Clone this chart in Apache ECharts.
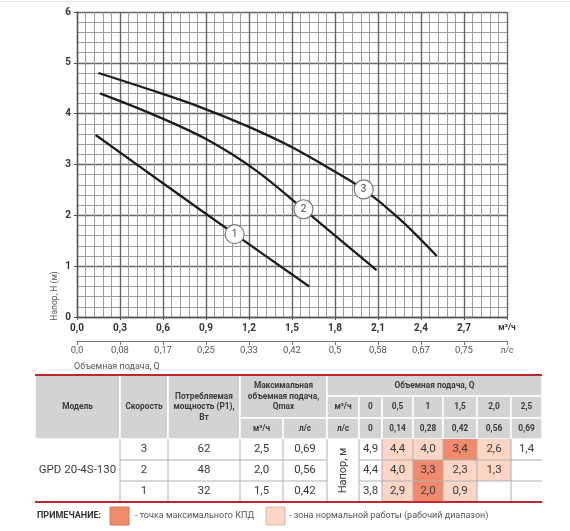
<!DOCTYPE html>
<html><head><meta charset="utf-8">
<script src="https://cdn.jsdelivr.net/npm/echarts@6/dist/echarts.min.js"></script>
<style>html,body{margin:0;padding:0;background:#fff}#c{width:570px;height:531px}</style>
</head><body><div id="c"></div>
<script>
// ---- chart data ----
const curve1 = [[0.13,3.58],[0.60,2.63],[1.10,1.63],[1.62,0.60]];
const curve2 = [[0.16,4.40],[0.50,4.02],[0.90,3.50],[1.25,2.88],[1.58,2.12],[2.09,0.92]];
const curve3 = [[0.15,4.80],[0.50,4.48],[0.86,4.13],[1.20,3.74],[1.50,3.34],[1.80,2.86],[2.00,2.51],[2.25,1.93],[2.51,1.20]];
const curveLabels = [[1.10,1.63,'1'],[1.58,2.12,'2'],[2.00,2.51,'3']];
const flowM3hTicks = ['0,0','0,3','0,6','0,9','1,2','1,5','1,8','2,1','2,4','2,7','м³/ч'];
const flowLsTicks = ['0,0','0,08','0,17','0,25','0,33','0,42','0,5','0,58','0,67','0,75','л/с'];
const headTicks = ['0','1','2','3','4','5','6'];

// ---- table data ----
const tableModel = 'GPD 20-4S-130';
const tableSpeeds = ['3','2','1'];
const tablePower = ['62','48','32'];
const tableQmaxM3h = ['2,5','2,0','1,5'];
const tableQmaxLs = ['0,69','0,56','0,42'];
const tableFlowM3h = ['0','0,5','1','1,5','2,0','2,5'];
const tableFlowLs = ['0','0,14','0,28','0,42','0,56','0,69'];
const tableHead = [['4,9','4,4','4,0','3,4','2,6','1,4'],['4,4','4,0','3,3','2,3','1,3',''],['3,8','2,9','2,0','0,9','','']];
const tableZone = [[0,1,1,2,1,0],[0,1,2,1,1,0],[0,1,2,1,0,0]]; // 0 none, 1 working range, 2 max efficiency

// ---- layout (positions / styles) ----
const colX = [35,120,168,240,283,327,359,382,413,443,477,511,542];
const rowY = [375,396,418,439,460,481,502];
const FONT = 'Roboto';
const zoneFill = ['#ffffff','#fcd5c5','#ef8a6c'];

const g = [];
function rect(x0,y0,x1,y1,fill,stroke,lw){
  return {type:'rect', silent:true, shape:{x:x0,y:y0,width:x1-x0,height:y1-y0}, style:{fill:fill, stroke:stroke||null, lineWidth:lw||0}};
}
function line(x0,y0,x1,y1,color,lw){
  return {type:'line', silent:true, shape:{x1:x0,y1:y0,x2:x1,y2:y1}, style:{stroke:color, lineWidth:lw}};
}
function txt(x,y,text,o){
  o = o||{};
  const al = o.align||'center';
  return {type:'text', silent:true, x:x, y:y, rotation:o.rot||0, z:10,
    style:{text:text, fill:o.color||'#333', fontSize:o.size||11, fontWeight:o.bold?'bold':'normal', fontFamily:FONT,
      align:al, textAlign:al, verticalAlign:'middle', textVerticalAlign:'middle', lineHeight:o.lh||undefined}};
}
function cell(c0,c1,r0,r1,text,o){
  const x0=colX[c0],x1=colX[c1],y0=rowY[r0],y1=rowY[r1];
  return txt((x0+x1)/2,(y0+y1)/2,text,o);
}

// header
const hdr = [
  [0,1,0,3,'Модель'],[1,2,0,3,'Скорость'],[2,3,0,3,'Потребляемая\nмощность (P1),\nВт'],
  [3,5,0,2,'Максимальная\nобъемная подача,\nQmax'],[3,4,2,3,'м³/ч'],[4,5,2,3,'л/с'],
  [5,12,0,1,'Объемная подача, Q'],[5,6,1,2,'м³/ч'],[5,6,2,3,'л/с']
];
tableFlowM3h.forEach((v,i)=>hdr.push([6+i,7+i,1,2,v]));
tableFlowLs.forEach((v,i)=>hdr.push([6+i,7+i,2,3,v]));
hdr.forEach(h=>{
  g.push(rect(colX[h[0]],rowY[h[2]],colX[h[1]],rowY[h[3]],'#d3d3d3','#ffffff',1.5));
  g.push(cell(h[0],h[1],h[2],h[3],h[4],{bold:true,size:8.3,lh:10.5,color:'#3a3a3a'}));
});
// body
g.push(cell(0,1,3,6,tableModel,{size:11.5,color:'#3a3a3a'}));
for(let r=0;r<3;r++){
  const R=3+r;
  g.push(cell(1,2,R,R+1,tableSpeeds[r],{size:11.5,color:'#3a3a3a'}));
  g.push(cell(2,3,R,R+1,tablePower[r],{size:11.5,color:'#3a3a3a'}));
  g.push(cell(3,4,R,R+1,tableQmaxM3h[r],{size:11.5,color:'#3a3a3a'}));
  g.push(cell(4,5,R,R+1,tableQmaxLs[r],{size:11.5,color:'#3a3a3a'}));
  for(let i=0;i<6;i++){
    g.push(rect(colX[6+i],rowY[R],colX[7+i],rowY[R+1],zoneFill[tableZone[r][i]]));
    g.push(cell(6+i,7+i,R,R+1,tableHead[r][i],{size:11.5,color:'#3a3a3a'}));
  }
}
g.push(cell(5,6,3,6,'Напор, м',{size:11,color:'#3a3a3a',rot:Math.PI/2}));
for(let c=1;c<12;c++) g.push(line(colX[c],rowY[3],colX[c],rowY[6],'#b0b0b0',1));
[4,5].forEach(r=>{
  g.push(line(colX[1],rowY[r],colX[5],rowY[r],'#b0b0b0',1));
  g.push(line(colX[6],rowY[r],colX[12],rowY[r],'#b0b0b0',1));
});
g.push(line(colX[0],rowY[0],colX[12],rowY[0],'#c1272d',2));
g.push(line(colX[0],rowY[6],colX[12],rowY[6],'#c1272d',2));

// legend
g.push(txt(37,516,'ПРИМЕЧАНИЕ:',{align:'left',bold:true,size:9,color:'#333'}));
g.push(rect(110,507,129,525,zoneFill[2],'#d9785c',1));
g.push(txt(135,516,'- точка максимального КПД',{align:'left',size:9,color:'#555'}));
g.push(rect(266,507,285,525,zoneFill[1],'#e6b3a2',1));
g.push(txt(289,516,'- зона нормальной работы (рабочий диапазон)',{align:'left',size:9,color:'#555'}));

// chart texts
g.push(line(0,1.5,570,1.5,'#e2e2e2',1));
g.push(txt(55,296,'Напор, H (м)',{size:8.5,color:'#555',rot:Math.PI/2}));
g.push(txt(74,367,'Объемная подача, Q',{align:'left',size:9,color:'#555'}));

const gridLine = {lineStyle:{color:'#666666',width:1.4}};
const minorLine = {show:true,lineStyle:{color:'#9c9c9c',width:1}};
const curveStyle = {color:'#1c1c1c',width:2.3};

const option = {
  animation:false,
  backgroundColor:'#fff',
  grid:[{left:77,top:12,width:430,height:305},{left:77,top:340,width:430,height:1}],
  xAxis:[
    {gridIndex:0,type:'value',min:0,max:3,interval:0.3,
     axisLine:{show:true,onZero:false,lineStyle:{color:'#555',width:1.3}},
     axisTick:{show:true,length:3,lineStyle:{color:'#555'}},
     axisLabel:{margin:6,color:'#333',fontWeight:'bold',fontSize:10,fontFamily:FONT,showMaxLabel:true,showMinLabel:true,
       formatter:v=>{const i=Math.round(v/0.3); return i===10?'{u|'+flowM3hTicks[i]+'}':flowM3hTicks[i];},
       rich:{u:{fontSize:8.5,fontWeight:'bold',color:'#333',fontFamily:FONT}}},
     splitLine:Object.assign({show:true},gridLine),
     minorTick:{show:false,splitNumber:5},
     minorSplitLine:minorLine},
    {gridIndex:1,type:'value',min:0,max:3,interval:0.3,
     axisLine:{show:true,onZero:false,lineStyle:{color:'#777',width:1}},
     axisTick:{show:true,length:4,lineStyle:{color:'#777'}},
     axisLabel:{margin:5,color:'#555',fontSize:9.5,fontFamily:FONT,showMaxLabel:true,showMinLabel:true,
       formatter:v=>{const i=Math.round(v/0.3); return i===10?'{u|'+flowLsTicks[i]+'}':flowLsTicks[i];},
       rich:{u:{fontSize:8.5,color:'#555',fontFamily:FONT}}},
     splitLine:{show:false}}
  ],
  yAxis:[
    {gridIndex:0,type:'value',min:0,max:6,interval:1,
     axisLine:{show:true,onZero:false,lineStyle:{color:'#555',width:1.3}},
     axisTick:{show:true,length:3,lineStyle:{color:'#555'}},
     axisLabel:{margin:6,color:'#333',fontWeight:'bold',fontSize:10,fontFamily:FONT,formatter:v=>headTicks[Math.round(v)]},
     splitLine:Object.assign({show:true},gridLine),
     minorTick:{show:false,splitNumber:5},
     minorSplitLine:minorLine},
    {gridIndex:1,type:'value',min:0,max:1,show:false}
  ],
  series:[
    {type:'line',xAxisIndex:0,yAxisIndex:0,data:curve1,smooth:0.35,symbol:'none',lineStyle:curveStyle,z:3},
    {type:'line',xAxisIndex:0,yAxisIndex:0,data:curve2,smooth:0.35,symbol:'none',lineStyle:curveStyle,z:3},
    {type:'line',xAxisIndex:0,yAxisIndex:0,data:curve3,smooth:0.35,symbol:'none',lineStyle:curveStyle,z:3},
    {type:'scatter',xAxisIndex:0,yAxisIndex:0,data:curveLabels,symbol:'circle',symbolSize:19,z:5,
     itemStyle:{color:'#fff',borderColor:'#777',borderWidth:1.2,opacity:1},
     label:{show:true,position:'inside',formatter:p=>p.value[2],color:'#444',fontSize:10,fontFamily:FONT}}
  ],
  graphic:{elements:g}
};
const chart = echarts.init(document.getElementById('c'),null,{renderer:'canvas'});
chart.setOption(option);
</script></body></html>
